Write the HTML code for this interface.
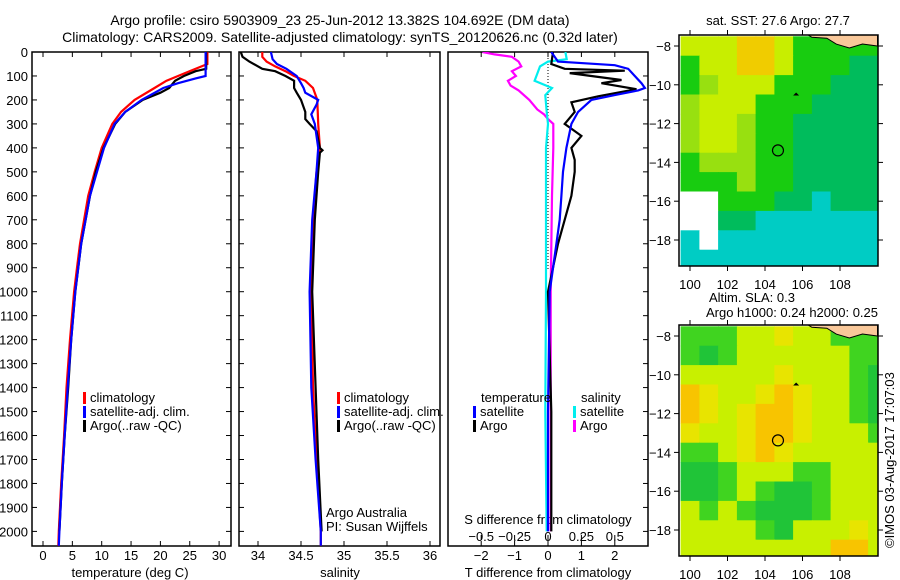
<!DOCTYPE html>
<html><head><meta charset="utf-8">
<style>
body{margin:0;background:#fff;}
svg{display:block;font-family:"Liberation Sans",sans-serif;}
text{font-size:13px;fill:#000;}
text.ttl{font-size:14px;}
</style></head>
<body>
<svg id="c" width="900" height="580" viewBox="0 0 900 580" xmlns="http://www.w3.org/2000/svg">
<text class="ttl" x="340" y="25" text-anchor="middle">Argo profile: csiro 5903909_23 25-Jun-2012 13.382S 104.692E (DM data)</text>
<text class="ttl" x="340" y="42" text-anchor="middle">Climatology: CARS2009. Satellite-adjusted climatology: synTS_20120626.nc (0.32d later)</text>
<text x="778" y="25" text-anchor="middle">sat. SST: 27.6 Argo: 27.7</text>
<text x="752" y="302" text-anchor="middle">Altim. SLA: 0.3</text>
<text x="792" y="317" text-anchor="middle">Argo h1000: 0.24 h2000: 0.25</text>
<text transform="translate(894,548) rotate(-90)">©IMOS 03-Aug-2017 17:07:03</text>
</svg>
<script>
// ---------- data ----------
const depthTicks=[0,100,200,300,400,500,600,700,800,900,1000,1100,1200,1300,1400,1500,1600,1700,1800,1900,2000];
const tempTicks=[0,5,10,15,20,25,30];
const salTicks=[34,34.5,35,35.5,36];
const tdiffTicks=[-2,-1,0,1,2];
const sdiffTicks=[-0.5,-0.25,0,0.25,0.5];
const lonTicks=[100,102,104,106,108];
const latTicks=[-8,-10,-12,-14,-16,-18];

const tClimDepth=[0,50,60,80,100,120,150,200,250,300,400,500,600,700,800,900,1000,1200,1400,1600,1800,2000,2060];
const tClimVal=[28,28,27,25,23,21,19,15.6,13.3,11.8,10,8.8,7.7,7,6.3,5.8,5.3,4.6,4.0,3.6,3.1,2.7,2.6];
const tSatDepth=[0,100,110,130,150,200,250,300,400,500,600,800,1000,1200,1400,1600,1800,2000,2060];
const tSatVal=[27.7,27.7,26,23,20.5,16.8,14,12.2,10.4,9.2,8.0,6.5,5.5,4.8,4.2,3.7,3.2,2.8,2.7];
const tArgoDepth=[0,70,80,100,120,150,170,200,250,300,400,500,600,800,1000,1200,1400,1600,1800,2000];
const tArgoVal=[27.8,27.8,26,24,22.5,21.5,20,17,14,12.3,10.3,9.0,8.0,6.5,5.5,4.8,4.3,3.7,3.2,2.8];

const sClimDepth=[0,20,40,60,80,100,120,150,200,300,400,500,700,1000,1400,1700,2000,2060];
const sClimVal=[34.05,34.05,34.1,34.2,34.32,34.42,34.55,34.64,34.69,34.7,34.72,34.68,34.64,34.62,34.64,34.68,34.73,34.73];
const sSatDepth=[0,30,50,70,100,130,150,170,190,200,220,260,300,400,500,700,1000,1400,1700,2000,2060];
const sSatVal=[34.15,34.17,34.22,34.33,34.45,34.5,34.53,34.55,34.65,34.7,34.68,34.62,34.66,34.7,34.68,34.63,34.6,34.62,34.67,34.73,34.73];
const sArgoDepth=[0,20,40,70,80,100,120,150,170,200,250,280,300,330,400,410,420,500,700,1000,1400,1700,2000];
const sArgoVal=[33.8,33.82,33.9,34.05,34.2,34.32,34.42,34.42,34.45,34.5,34.55,34.55,34.6,34.68,34.72,34.75,34.72,34.7,34.66,34.63,34.67,34.7,34.74];

const dTSatDepth=[0,40,55,70,100,130,150,160,180,200,250,300,400,500,600,700,800,1000,1500,2000];
const dTSatVal=[0.1,0.3,2.0,2.4,2.6,2.8,2.9,2.7,2.0,1.3,0.9,0.7,0.55,0.45,0.4,0.35,0.25,0.05,0.0,0.0];
const dTArgoDepth=[0,50,70,78,88,117,130,155,185,210,250,300,350,400,450,500,600,700,800,900,1000,1500,2000];
const dTArgoVal=[0.15,0.1,0.5,2.3,0.65,2.2,1.6,2.65,1.5,0.7,0.8,0.5,1.0,0.7,0.8,0.8,0.7,0.5,0.3,0.15,0.0,0.1,0.1];
const dSSatDepth=[0,30,40,60,90,120,150,180,250,300,400,600,1000,1500,2000];
const dSSatVal=[0.13,0.14,0.0,-0.06,-0.08,-0.1,0.03,-0.02,-0.01,0.0,-0.015,-0.015,-0.015,-0.02,-0.01];
const dSArgoDepth=[0,10,20,40,60,80,100,120,140,160,200,240,260,280,300,400,600,1000,2000];
const dSArgoVal=[-0.49,-0.4,-0.27,-0.22,-0.2,-0.27,-0.24,-0.3,-0.28,-0.22,-0.14,-0.08,-0.03,0.0,0.04,0.04,0.03,0.02,0.02];

// map grids: 1-degree cells, rows lat -8..-19, cols lon 100..110 ; 0 = missing
const sstLevels=[
[5,5,5,6,6,5,3,3,3,3,3],
[3,5,5,6,6,5,3,3,3,2,2],
[3,4,5,5,5,3,3,3,2,2,2],
[4,5,5,5,3,3,3,2,2,2,2],
[4,5,5,4,3,3,2,2,2,2,2],
[4,5,5,4,3,3,2,2,2,2,2],
[3,4,4,4,3,3,2,2,2,2,2],
[3,3,3,4,3,3,2,2,2,2,2],
[0,0,3,3,3,2,2,1,2,2,2],
[0,0,2,2,1,1,1,1,1,1,1],
[1,0,1,1,1,1,1,1,1,1,1],
[1,1,1,1,1,1,1,1,1,1,1]];
const slaLevels=[
[3,3,3,4,4,5,4,4,3,3,3],
[3,2,3,4,4,4,4,4,4,3,3],
[4,4,4,4,4,5,4,4,4,3,2],
[6,5,4,4,5,6,5,4,4,3,2],
[6,5,4,5,6,6,5,4,4,3,2],
[5,4,4,5,6,6,5,4,4,4,3],
[3,3,4,5,6,5,4,4,4,4,4],
[2,2,3,4,4,4,3,3,4,4,4],
[2,2,3,4,3,2,2,3,4,4,4],
[4,3,4,3,2,2,2,3,4,4,4],
[4,4,4,4,3,2,4,4,4,5,4],
[4,4,4,4,4,4,4,4,6,6,4]];
const sstColors=["#ffffff","#00ccc4","#00bc5c","#18cc10","#98e010","#c8ee00","#f0cc00"];
const slaColors=["#ffffff","#00b850","#20c438","#40d420","#c8f000","#e8e400","#f8c400"];

// ---------- drawing ----------
const svg=document.getElementById('c');
const NS="http://www.w3.org/2000/svg";
function el(tag,attrs,parent){const e=document.createElementNS(NS,tag);for(const k in attrs)e.setAttribute(k,attrs[k]);(parent||svg).appendChild(e);return e;}
function txt(x,y,s,anchor,parent){const t=el('text',{x:x,y:y,'text-anchor':anchor||'start'},parent);t.textContent=s;return t;}

const TOP=52, BOT=546;
const yD=d=>TOP+d*0.2397;
const xT=v=>43+v*5.87;
const xS=v=>258+(v-34)*86;
const xDT=v=>548+v*33.4;
const xDS=v=>548+v*133.6;

const panels=[[32,231],[239,440],[448,648]];
panels.forEach((p,i)=>{
  const r=el('rect',{x:p[0],y:TOP,width:p[1]-p[0],height:BOT-TOP,fill:'none',stroke:'#000','stroke-width':1.5});
  
  
});
depthTicks.forEach(d=>{
  const y=yD(d);
  el('line',{x1:32,x2:37,y1:y,y2:y,stroke:'#000'});
  el('line',{x1:226,x2:231,y1:y,y2:y,stroke:'#000'});
  el('line',{x1:239,x2:244,y1:y,y2:y,stroke:'#000'});
  el('line',{x1:643,x2:648,y1:y,y2:y,stroke:'#000'});
  const t=txt(28,y+5,String(d),'end');
  
  
});
function xAxis(ticks,fx,labelY,fmt){
  ticks.forEach(v=>{
    const x=fx(v);
    el('line',{x1:x,x2:x,y1:BOT,y2:BOT-5,stroke:'#000'});
    el('line',{x1:x,x2:x,y1:TOP,y2:TOP+5,stroke:'#000'});
    const t=txt(x,labelY,fmt?fmt(v):String(v),'middle');
    
    
  });
}
xAxis(tempTicks,xT,560);
xAxis(salTicks,xS,560);
xAxis(tdiffTicks,xDT,560,v=>String(v).replace('-','−'));
sdiffTicks.forEach(v=>{
  const x=xDS(v);
  el('line',{x1:x,x2:x,y1:BOT-6,y2:BOT-11,stroke:'#000'});
  const t=txt(x,541,String(v).replace('-','−'),'middle');
  
  
});
[[130,'temperature (deg C)','temperature-axis-title'],[340,'salinity','salinity-axis-title'],[548,'T difference from climatology','tdiff-axis-title']].forEach(a=>{
  const t=txt(a[0],577,a[1],'middle');
  
  
});
{const t=txt(548,524,'S difference from climatology','middle');

}

el('line',{x1:548,x2:548,y1:TOP,y2:270,stroke:'#000','stroke-dasharray':'1,2'});

function clipRect(id,x0,x1){const cp=el('clipPath',{id:id});el('rect',{x:x0,y:TOP,width:x1-x0,height:BOT-TOP},cp);}
clipRect('cp1',32,231);clipRect('cp2',239,440);clipRect('cp3',448,648);
function series(depths,vals,fx,color,clip,name){
  const pts=depths.map((d,i)=>fx(vals[i]).toFixed(1)+','+yD(d).toFixed(1)).join(' ');
  const p=el('polyline',{points:pts,fill:'none',stroke:color,'stroke-width':2.2,'clip-path':'url(#'+clip+')'});
  
  
}
series(tClimDepth,tClimVal,xT,'#ff0000','cp1','temp-climatology-line');
series(tArgoDepth,tArgoVal,xT,'#000000','cp1','temp-argo-line');
series(tSatDepth,tSatVal,xT,'#0000ff','cp1','temp-satellite-line');
series(sClimDepth,sClimVal,xS,'#ff0000','cp2','sal-climatology-line');
series(sArgoDepth,sArgoVal,xS,'#000000','cp2','sal-argo-line');
series(sSatDepth,sSatVal,xS,'#0000ff','cp2','sal-satellite-line');
series(dSArgoDepth,dSArgoVal,xDS,'#ff00ff','cp3','sdiff-argo-line');
series(dSSatDepth,dSSatVal,xDS,'#00eeee','cp3','sdiff-satellite-line');
series(dTArgoDepth,dTArgoVal,xDT,'#000000','cp3','tdiff-argo-line');
series(dTSatDepth,dTSatVal,xDT,'#0000ff','cp3','tdiff-satellite-line');

function legendEntry(x,y,color,label,name){
  const g=el('g',{});
  
  
  el('rect',{x:x,y:y-10,width:3,height:12,fill:color},g);
  txt(x+7,y,label,'start',g);
}
[['#ff0000','climatology'],['#0000ff','satellite-adj. clim.'],['#000000','Argo(..raw -QC)']].forEach((l,i)=>legendEntry(83,402+i*14,l[0],l[1],'temp-legend-entry'));
[['#ff0000','climatology'],['#0000ff','satellite-adj. clim.'],['#000000','Argo(..raw -QC)']].forEach((l,i)=>legendEntry(337,402+i*14,l[0],l[1],'sal-legend-entry'));
{const t=txt(481,402,'temperature');
const s=txt(581,402,'salinity');}
legendEntry(473,416,'#0000ff','satellite','diff-legend-entry');
legendEntry(473,430,'#000000','Argo','diff-legend-entry');
legendEntry(573,416,'#00eeee','satellite','diff-legend-entry');
legendEntry(573,430,'#ff00ff','Argo','diff-legend-entry');
{const a=txt(326,517,'Argo Australia');
const b=txt(326,531,'PI: Susan Wijffels');}

// ---------- maps ----------
const mX=lon=>690+(lon-100)*18.75;
function drawMap(y0,grid,colors,name){
  const yL=lat=>y0+(-8-lat)*19.4;
  const id='mc'+y0;
  const cp=el('clipPath',{id:id});
  el('rect',{x:679,y:y0-11,width:199,height:231},cp);
  const g=el('g',{'clip-path':'url(#'+id+')'});
  
  
  grid.forEach((row,r)=>row.forEach((v,c)=>{
    const lon=100+c, lat=-8-r;
    const x=mX(lon-0.5), y=yL(lat+0.5);
    const cell=el('rect',{x:x.toFixed(1),y:y.toFixed(1),width:(mX(lon+0.5)-x+0.6).toFixed(1),height:(yL(lat-0.5)-y+0.6).toFixed(1),fill:colors[v]},g);
    
    
  }));
  const land=el('path',{d:`M${mX(106.3)},${y0-11} L${mX(106.5)},${yL(-7.55)} L${mX(107.3)},${yL(-7.6)} L${mX(107.8)},${yL(-7.9)} L${mX(108.5)},${yL(-8.1)} L${mX(109.2)},${yL(-7.9)} L${mX(110)},${yL(-8.0)} L${mX(110)},${y0-11} Z`,fill:'#f9c89a',stroke:'#000','stroke-width':1},g);
  
  
  const fr=el('rect',{x:679,y:y0-11,width:199,height:231,fill:'none',stroke:'#000','stroke-width':1.5});
  
  
  lonTicks.forEach(l=>{const x=mX(l);
    el('line',{x1:x,x2:x,y1:y0+220,y2:y0+225,stroke:'#000'});
    el('line',{x1:x,x2:x,y1:y0-11,y2:y0-16,stroke:'#000'});
    const t=txt(x,y0+243,String(l),'middle');});
  latTicks.forEach(l=>{const y=yL(l);
    el('line',{x1:674,x2:679,y1:y,y2:y,stroke:'#000'});
    el('line',{x1:878,x2:883,y1:y,y2:y,stroke:'#000'});
    const t=txt(671,y+5,String(l).replace('-','−'),'end');});
  const pos=el('circle',{cx:mX(104.692),cy:yL(-13.382),r:5.5,fill:'none',stroke:'#000','stroke-width':1.2});
  
  
  const isl=el('path',{d:`M${mX(105.5)},${yL(-10.55)} l3,-3 l3,3 z`,fill:'#000'});
  
  
}
drawMap(46,sstLevels,sstColors,'sst-map');
drawMap(336,slaLevels,slaColors,'sla-map');
</script>
</body></html>
